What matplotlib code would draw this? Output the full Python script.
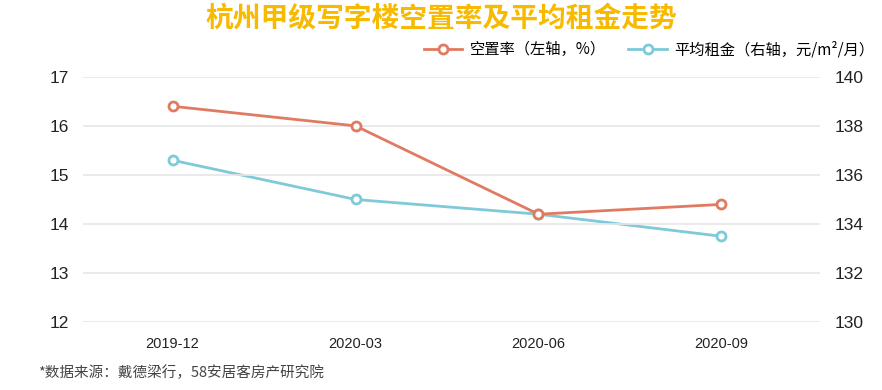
import matplotlib.pyplot as plt
import numpy as np

plt.rcParams['font.family'] = ['Noto Sans CJK SC', 'DejaVu Sans']

# 数据
periods = ["2019-12", "2020-03", "2020-06", "2020-09"]
vacancy = [16.4, 16.0, 14.2, 14.4]        # 空置率（左轴，%）
rent = [136.6, 135.0, 134.4, 133.5]       # 平均租金（右轴，元/m²/月）

orange = "#E07B62"
blue = "#7ECAD8"

fig = plt.figure(figsize=(8.82, 3.9), dpi=100)
ax = fig.add_axes([0.094, 0.174, 0.836, 0.629])
ax2 = ax.twinx()

x = np.arange(len(periods))
l1, = ax.plot(x, vacancy, color=orange, lw=2, marker="o", ms=6.5,
              mfc="white", mec=orange, mew=2, zorder=3,
              label="空置率（左轴，%）")
l2, = ax2.plot(x, rent, color=blue, lw=2, marker="o", ms=6.5,
               mfc="white", mec=blue, mew=2, zorder=2,
               label="平均租金（右轴，元/m²/月）")
ax.set_zorder(ax2.get_zorder() + 1)
ax.patch.set_visible(False)

ax.set_ylim(12, 17)
ax2.set_ylim(130, 140)
ax.set_xlim(-0.49, 3.54)
ax.set_yticks(range(12, 18))
ax2.set_yticks(range(130, 141, 2))
ax.set_xticks(x)
ax.set_xticklabels(periods)
ax.yaxis.grid(True, color="#E6E6E6", lw=1.2)
ax.set_axisbelow(True)

num_font = dict(family="Liberation Sans", size=12.5, color="#222222")
for a in (ax, ax2):
    for s in a.spines.values():
        s.set_visible(False)
    a.tick_params(length=0)
    for t in a.get_yticklabels():
        t.set(**num_font)
for t in ax.get_xticklabels():
    t.set(family="Liberation Sans", size=10.5, color="#222222")
ax.tick_params(axis="y", pad=10)
ax2.tick_params(axis="y", pad=10)
ax.tick_params(axis="x", pad=11)

fig.text(0.5, 0.953, "杭州甲级写字楼空置率及平均租金走势", ha="center", va="center",
         fontsize=20, fontweight="bold", color="#F7BA00")

fig.legend(handles=[l1, l2], loc="center right", bbox_to_anchor=(1.007, 0.872),
           ncol=2, frameon=False, fontsize=11, handlelength=2.5,
           columnspacing=1.5, handletextpad=0.5)

fig.text(0.043, 0.045, "*数据来源：戴德梁行，58安居客房产研究院", ha="left", va="center",
         fontsize=10.5, color="#444444")

fig.savefig("out.png", dpi=100)
